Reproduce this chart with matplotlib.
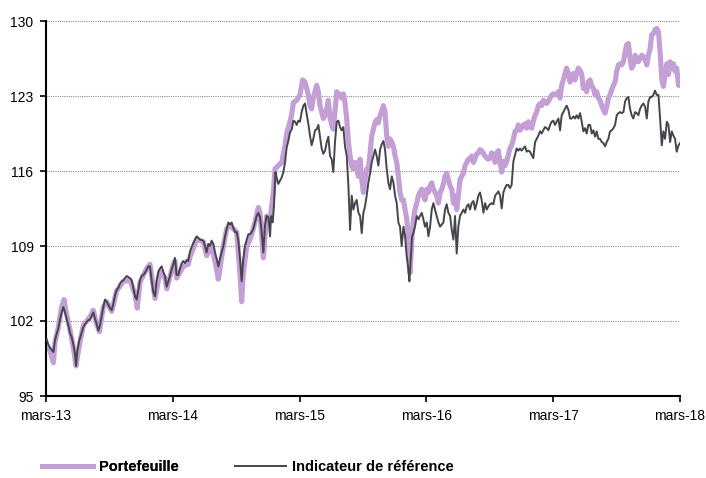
"""Portefeuille vs indicateur de référence, base 100, mars-13 to mars-18."""
import matplotlib
matplotlib.use("Agg")
import matplotlib.pyplot as plt
from matplotlib.lines import Line2D

# time axis in years elapsed since mars-13
tick_labels = ["mars-13", "mars-14", "mars-15", "mars-16", "mars-17", "mars-18"]
y_ticks = [95, 102, 109, 116, 123, 130]

ref_t = [
    0.005, 0.018, 0.032, 0.058, 0.071, 0.084, 0.097, 0.110, 0.123, 0.137,
    0.150, 0.163, 0.176, 0.189, 0.202, 0.216, 0.229, 0.237, 0.247, 0.263,
    0.281, 0.294, 0.308, 0.321, 0.334, 0.347, 0.360, 0.373, 0.387, 0.400,
    0.413, 0.426, 0.439, 0.452, 0.465, 0.479, 0.492, 0.505, 0.518, 0.531,
    0.544, 0.557, 0.571, 0.584, 0.597, 0.610, 0.623, 0.636, 0.649, 0.662,
    0.676, 0.689, 0.702, 0.715, 0.728, 0.741, 0.754, 0.768, 0.781, 0.794,
    0.807, 0.820, 0.833, 0.846, 0.860, 0.873, 0.886, 0.899, 0.912, 0.925,
    0.938, 0.952, 0.965, 0.978, 0.991, 1.004, 1.017, 1.030, 1.044, 1.057,
    1.070, 1.083, 1.096, 1.109, 1.122,
    1.136, 1.162, 1.188, 1.215, 1.241, 1.254, 1.267, 1.280, 1.293, 1.306,
    1.320, 1.333, 1.346, 1.359, 1.372, 1.385, 1.399, 1.412, 1.425, 1.438,
    1.451, 1.464, 1.477, 1.491, 1.504, 1.517, 1.530, 1.543, 1.556, 1.569,
    1.583, 1.596, 1.609, 1.622, 1.635, 1.648, 1.661, 1.675, 1.688, 1.701,
    1.714, 1.727, 1.740, 1.754, 1.767, 1.775, 1.788, 1.798, 1.809, 1.819,
    1.832, 1.846, 1.859, 1.872, 1.885, 1.898, 1.911, 1.924, 1.938, 1.951,
    1.964, 1.977, 1.990, 2.003, 2.016, 2.030, 2.043, 2.056, 2.069, 2.082,
    2.095, 2.108, 2.122, 2.135, 2.148, 2.161, 2.174, 2.187, 2.201, 2.214,
    2.227, 2.240, 2.253, 2.266, 2.279, 2.293, 2.306, 2.319,
    2.332, 2.345, 2.358, 2.372, 2.385, 2.398, 2.411, 2.424, 2.437, 2.450,
    2.464, 2.477, 2.490, 2.503, 2.516, 2.529, 2.542, 2.556, 2.569, 2.582,
    2.595, 2.608, 2.621, 2.635, 2.648, 2.661, 2.674, 2.687, 2.700, 2.713,
    2.727, 2.740, 2.753, 2.766, 2.779, 2.792, 2.805, 2.819, 2.832, 2.845,
    2.858, 2.866, 2.876, 2.887, 2.897, 2.910, 2.924, 2.937, 2.950, 2.963,
    2.976, 2.989, 3.003, 3.016, 3.029, 3.042, 3.055, 3.068, 3.081, 3.095,
    3.108, 3.121, 3.134, 3.147, 3.160, 3.173, 3.187, 3.200, 3.213, 3.226,
    3.239, 3.252, 3.265, 3.279, 3.292, 3.305, 3.318, 3.331, 3.344, 3.357,
    3.371, 3.384, 3.397, 3.410, 3.423, 3.436, 3.450, 3.463, 3.476, 3.489,
    3.502, 3.515, 3.528, 3.542, 3.555, 3.568, 3.581,
    3.594, 3.607, 3.620, 3.633, 3.646, 3.659, 3.672, 3.686, 3.699, 3.712,
    3.725, 3.738, 3.751, 3.764, 3.778, 3.791, 3.804, 3.817, 3.830, 3.843,
    3.857, 3.870, 3.883, 3.896, 3.909, 3.922, 3.935, 3.949, 3.962, 3.975,
    3.988, 4.001, 4.014, 4.028, 4.041, 4.054, 4.067, 4.080, 4.093, 4.106,
    4.120, 4.133, 4.146, 4.159, 4.172, 4.185, 4.198, 4.212, 4.225, 4.238,
    4.251, 4.264, 4.277, 4.291, 4.304, 4.317, 4.330, 4.343, 4.356, 4.369,
    4.383, 4.396, 4.409, 4.422, 4.435, 4.448, 4.462, 4.475, 4.488, 4.501,
    4.514, 4.527, 4.540, 4.554, 4.567, 4.580, 4.593, 4.606, 4.619, 4.632,
    4.646, 4.659, 4.672, 4.685, 4.698, 4.711, 4.725, 4.738, 4.751, 4.764,
    4.777, 4.790, 4.803, 4.817, 4.830, 4.843, 4.856, 4.869, 4.882, 4.896,
    4.909, 4.922, 4.935, 4.948, 4.961, 4.974, 4.988, 5.000,
]
ref_val = [
    100.3, 99.8, 99.5, 99.1, 100.2, 100.8, 101.3, 102.1, 102.8, 103.3,
    102.8, 102.2, 101.6, 100.9, 100.5, 99.8, 98.9, 97.8, 99.2, 100.2,
    100.9, 101.4, 101.7, 101.9, 102.1, 102.1, 102.5, 102.8, 102.2, 101.7,
    101.1, 101.6, 102.5, 103.3, 104.0, 103.8, 103.5, 103.2, 103.0, 103.6,
    104.4, 104.9, 105.1, 105.5, 105.7, 105.8, 106.0, 106.2, 106.1, 106.0,
    105.8, 105.1, 104.3, 104.0, 104.9, 105.8, 106.2, 106.3, 106.5, 106.8,
    107.1, 107.1, 105.8, 104.7, 104.3, 105.8, 106.6, 106.9, 107.1, 106.6,
    106.2, 105.2, 105.7, 106.2, 106.8, 107.3, 107.9, 106.3, 106.3, 106.9,
    107.4, 107.6, 107.4, 107.7, 107.6,
    108.5, 109.3, 109.9, 109.6, 109.5, 109.0, 108.4, 109.2, 109.0, 109.5,
    109.2, 108.4, 107.8, 107.1, 107.8, 108.4, 109.0, 109.9, 110.6, 111.2,
    111.0, 111.2, 110.7, 110.3, 110.3, 109.5, 107.8, 105.7, 107.8, 109.0,
    109.6, 110.1, 110.1, 110.3, 110.6, 111.2, 111.8, 112.1, 111.7, 110.3,
    108.4, 110.9, 111.8, 111.7, 109.9, 111.8, 111.2, 112.8, 115.9, 115.4,
    114.8, 115.1, 115.4, 115.9, 116.8, 118.2, 118.8, 119.6, 119.9, 120.7,
    120.6, 120.3, 120.7, 120.6, 121.5, 122.1, 122.3, 121.3, 120.4, 119.3,
    118.4, 119.0, 119.8, 119.9, 120.3, 119.2, 118.1, 117.6, 117.9, 118.7,
    119.2, 117.4, 117.1, 115.9, 118.7, 120.6, 120.7, 120.1,
    119.8, 120.1, 118.3, 117.4, 114.6, 110.5, 113.7, 112.4, 113.0, 113.3,
    112.1, 111.8, 110.2, 112.1, 112.7, 113.7, 114.9, 115.8, 116.8, 117.4,
    118.0, 117.4, 116.5, 118.0, 118.5, 118.8, 118.0, 116.2, 114.9, 114.3,
    115.5, 114.9, 113.7, 113.0, 111.2, 110.8, 109.0, 110.8, 109.9, 108.0,
    106.8, 105.7, 107.7, 109.9, 110.2, 110.8, 111.8, 111.5, 111.8, 112.1,
    111.5, 110.8, 111.2, 109.9, 110.8, 112.4, 113.0, 112.4, 111.8, 111.2,
    110.8, 111.0, 111.2, 112.4, 112.9, 112.1, 111.8, 110.5, 109.6, 111.8,
    108.3, 110.8, 111.8, 112.1, 112.4, 112.1, 112.7, 112.9, 112.4, 113.0,
    113.2, 112.4, 113.0, 113.7, 114.0, 113.3, 112.1, 113.0, 112.4, 112.7,
    112.9, 113.0, 112.9, 113.7, 113.9, 114.1, 113.7,
    112.5, 114.0, 114.4, 114.7, 114.7, 114.4, 114.7, 116.9, 117.5, 118.1,
    117.9, 118.1, 117.9, 118.1, 118.3, 117.8, 117.9, 117.8, 117.5, 117.2,
    118.7, 119.0, 119.3, 119.7, 119.5, 119.8, 120.1, 120.0, 119.8, 120.3,
    120.6, 120.7, 120.3, 120.6, 120.9, 119.8, 121.2, 121.5, 121.8, 122.1,
    121.7, 120.9, 120.9, 121.1, 120.9, 121.2, 120.9, 121.4, 120.6, 119.7,
    120.0, 119.5, 120.3, 120.3, 119.5, 119.8, 119.2, 119.7, 119.0, 119.0,
    118.7, 118.6, 118.3, 118.7, 119.0, 119.7, 119.8, 120.0, 120.3, 121.2,
    121.4, 121.5, 121.4, 121.5, 122.5, 122.8, 122.9, 121.8, 121.2, 120.9,
    121.5, 121.4, 121.2, 121.8, 122.1, 122.3, 122.0, 120.9, 122.5, 122.9,
    122.9, 123.1, 123.5, 123.1, 123.1, 120.9, 118.4, 119.7, 119.0, 120.6,
    120.3, 118.7, 119.7, 119.3, 119.0, 117.8, 118.4, 118.6,
]

port_t = [
    0.005, 0.032, 0.058, 0.071, 0.097, 0.123, 0.142, 0.163, 0.189, 0.216,
    0.237, 0.255, 0.294, 0.347, 0.373, 0.400, 0.421, 0.452, 0.479, 0.518,
    0.557, 0.610, 0.662, 0.702, 0.720, 0.741, 0.794, 0.820, 0.860, 0.899,
    0.938, 0.952, 1.004, 1.017, 1.030, 1.083, 1.122,
    1.136, 1.188, 1.241, 1.267, 1.306, 1.346, 1.359, 1.399, 1.425, 1.451,
    1.504, 1.530, 1.543, 1.556, 1.583, 1.609, 1.635, 1.675, 1.688, 1.714,
    1.740, 1.767, 1.793, 1.806, 1.832, 1.859, 1.885, 1.898, 1.924, 1.938,
    1.951, 1.977, 2.003, 2.024, 2.043, 2.056, 2.069, 2.082, 2.095, 2.108,
    2.135, 2.148, 2.161, 2.187, 2.201, 2.214, 2.227, 2.240, 2.253, 2.266,
    2.293, 2.319,
    2.332, 2.345, 2.358, 2.372, 2.385, 2.398, 2.411, 2.424, 2.437, 2.450,
    2.464, 2.477, 2.490, 2.503, 2.516, 2.529, 2.542, 2.556, 2.569, 2.582,
    2.595, 2.608, 2.621, 2.635, 2.648, 2.661, 2.674, 2.687, 2.700, 2.713,
    2.727, 2.740, 2.753, 2.766, 2.779, 2.792, 2.805, 2.819, 2.832, 2.845,
    2.858, 2.871, 2.884, 2.897, 2.910, 2.924, 2.937, 2.950, 2.963, 2.976,
    2.989, 3.003, 3.016, 3.029, 3.042, 3.055, 3.068, 3.081, 3.095, 3.108,
    3.121, 3.134, 3.147, 3.160, 3.173, 3.187, 3.200, 3.213, 3.226, 3.239,
    3.252, 3.265, 3.279, 3.292, 3.305, 3.318, 3.331, 3.344, 3.357, 3.371,
    3.384, 3.397, 3.410, 3.423, 3.436, 3.450, 3.463, 3.476, 3.489, 3.502,
    3.515, 3.528, 3.542, 3.555, 3.568, 3.581,
    3.594, 3.607, 3.620, 3.633, 3.646, 3.659, 3.672, 3.686, 3.699, 3.712,
    3.725, 3.738, 3.751, 3.764, 3.778, 3.791, 3.804, 3.817, 3.830, 3.843,
    3.857, 3.870, 3.883, 3.896, 3.909, 3.922, 3.935, 3.949, 3.962, 3.975,
    3.988, 4.001, 4.014, 4.028, 4.041, 4.054, 4.067, 4.080, 4.093, 4.106,
    4.120, 4.133, 4.146, 4.159, 4.172, 4.185, 4.198, 4.212, 4.225, 4.238,
    4.251, 4.264, 4.277, 4.291, 4.304, 4.317, 4.330, 4.343, 4.356, 4.369,
    4.383, 4.396, 4.409, 4.422, 4.435, 4.448, 4.462, 4.475, 4.488, 4.501,
    4.514, 4.527, 4.540, 4.554, 4.567, 4.580, 4.593, 4.606, 4.619, 4.632,
    4.646, 4.659, 4.672, 4.685, 4.698, 4.711, 4.725, 4.738, 4.751, 4.764,
    4.777, 4.790, 4.803, 4.817, 4.830, 4.843, 4.856, 4.869, 4.882, 4.896,
    4.909, 4.922, 4.935, 4.948, 4.961, 4.974, 4.988, 5.000,
]
port_val = [
    99.8, 99.2, 98.1, 100.0, 101.4, 103.3, 104.0, 102.6, 101.2, 99.5,
    97.8, 99.2, 101.6, 102.4, 103.0, 101.7, 101.0, 103.3, 103.8, 102.9,
    104.8, 105.7, 105.8, 104.5, 103.2, 105.6, 106.9, 107.3, 104.1, 106.6,
    106.0, 105.0, 107.3, 107.6, 106.0, 107.1, 107.3,
    108.0, 109.6, 109.4, 108.1, 109.0, 106.8, 105.9, 109.0, 110.6, 110.9,
    110.3, 106.4, 103.8, 106.4, 109.0, 109.6, 110.6, 112.6, 112.1, 107.9,
    111.8, 111.5, 114.0, 116.2, 116.5, 116.8, 118.4, 119.5, 120.6, 121.3,
    122.4, 122.6, 123.1, 124.5, 124.3, 123.7, 123.1, 122.1, 121.8, 122.8,
    124.0, 123.4, 122.1, 120.9, 121.2, 121.8, 122.6, 121.0, 120.3, 119.9,
    123.4, 123.1,
    122.8, 123.2, 122.4, 120.8, 118.7, 117.4, 116.5, 116.2, 116.8, 116.2,
    115.5, 117.1, 115.2, 114.0, 115.2, 116.2, 116.2, 117.7, 119.3, 119.9,
    120.5, 120.8, 120.5, 121.2, 121.6, 122.1, 121.5, 119.3, 118.3, 119.0,
    118.7, 118.3, 117.4, 116.8, 115.5, 114.0, 113.3, 113.3, 112.4, 111.5,
    109.9, 106.5, 109.3, 111.5, 112.4, 113.0, 113.7, 114.0, 114.3, 113.7,
    113.3, 114.3, 114.0, 114.6, 114.9, 114.3, 114.0, 113.7, 113.0, 114.0,
    114.3, 114.8, 115.5, 115.8, 115.2, 114.6, 114.3, 113.0, 113.7, 112.4,
    113.7, 115.2, 115.5, 115.8, 116.5, 116.8, 117.1, 117.1, 117.4, 116.8,
    117.2, 117.6, 117.7, 118.0, 117.9, 117.6, 117.4, 117.2, 117.1, 117.2,
    117.7, 117.4, 116.8, 117.7, 117.9, 116.8,
    115.9, 116.9, 116.5, 116.9, 117.5, 118.1, 118.4, 119.0, 119.7, 119.8,
    120.3, 119.8, 120.0, 120.3, 120.4, 120.0, 120.6, 120.3, 120.0, 120.6,
    121.2, 121.5, 122.1, 122.3, 122.1, 122.6, 122.5, 122.3, 122.5, 122.8,
    123.1, 123.2, 123.1, 123.2, 123.4, 122.8, 124.0, 124.5, 125.1, 125.6,
    125.1, 124.3, 124.8, 125.1, 124.5, 125.1, 125.6, 125.4, 125.0, 123.7,
    123.9, 123.4, 124.3, 124.5, 123.9, 123.7, 123.1, 123.4, 122.8, 122.6,
    122.1, 121.7, 121.4, 122.0, 122.8, 123.1, 123.6, 124.0, 124.3, 125.3,
    125.9, 126.0, 125.9, 126.2, 127.1, 127.8, 127.9, 126.5, 125.6, 125.9,
    126.8, 126.5, 126.2, 126.5, 126.8, 126.7, 126.4, 125.9, 126.8, 127.4,
    128.7, 128.8, 129.2, 129.3, 129.0, 127.1, 124.6, 123.9, 125.0, 126.0,
    125.0, 126.2, 125.6, 126.0, 125.3, 125.6, 124.0, 124.0,
]

PURPLE = "#C39FD5"
GRAY = "#45454D"

plt.rcParams["font.family"] = ["Liberation Sans", "DejaVu Sans"]
plt.rcParams["font.size"] = 10

fig = plt.figure(figsize=(7.06, 4.78), dpi=100)
ax = fig.add_axes([46 / 706, 1 - 396 / 478, 634 / 706, 375 / 478])

for v in y_ticks[1:]:
    ax.axhline(v, color="#8c8c8c", lw=0.8, ls=(0, (1, 1)), zorder=1)

ax.plot(port_t, port_val, color=PURPLE, lw=3.7, solid_joinstyle="round", zorder=2)
ax.plot(ref_t, ref_val, color=GRAY, lw=1.4, zorder=3)

ax.set_xlim(0, 5)
ax.set_ylim(95, 130)
ax.set_xticks(range(len(tick_labels)))
ax.set_xticklabels(tick_labels)
ax.set_yticks(y_ticks)
ax.tick_params(axis="both", direction="out", length=4, width=1.2, color="black",
               labelsize=10, pad=5)
for side in ("top", "right"):
    ax.spines[side].set_visible(False)
for side in ("left", "bottom"):
    ax.spines[side].set_linewidth(1.5)
    ax.spines[side].set_color("black")

# legend below the plot, two separate entries like the original
h1 = Line2D([], [], color=PURPLE, lw=3.4)
h2 = Line2D([], [], color=GRAY, lw=1.4)
leg_props = {"weight": "bold", "size": 10.5}
leg1 = fig.legend([h1], ["Portefeuille"], loc="center left",
                  bbox_to_anchor=(42 / 706, 1 - 467 / 478), frameon=False,
                  handlelength=3.5, handletextpad=0.4, borderpad=0,
                  borderaxespad=0, prop=leg_props)
leg2 = fig.legend([h2], ["Indicateur de référence"], loc="center left",
                  bbox_to_anchor=(235 / 706, 1 - 467 / 478), frameon=False,
                  handlelength=3.5, handletextpad=0.4, borderpad=0,
                  borderaxespad=0, prop=leg_props)
fig.add_artist(leg1)

fig.savefig("out.png", dpi=100)
